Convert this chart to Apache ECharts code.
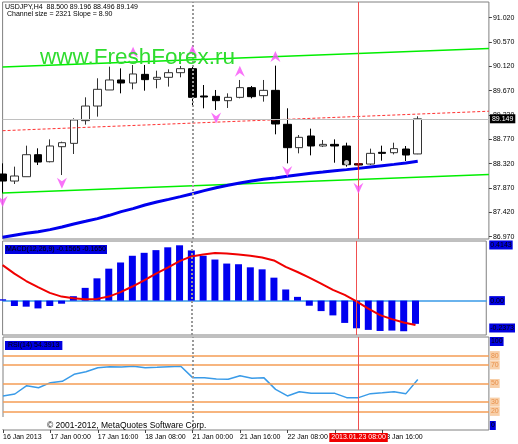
<!DOCTYPE html>
<html>
<head>
<meta charset="utf-8">
<style>
html, body { margin: 0; padding: 0; background: #fff; }
#chart { width: 518px; height: 444px; }
</style>
<script src="https://cdn.jsdelivr.net/npm/echarts@6/dist/echarts.min.js"></script>
</head>
<body>
<div id="chart"></div>
<script>
// one label every 4 H4 candles, the axis has 42 slots, 36 of them with data
var tickLabels = ['16 Jan 2013', '17 Jan 00:00', '17 Jan 16:00', '18 Jan 08:00', '21 Jan 00:00', '21 Jan 16:00', '22 Jan 08:00', '23 Jan 00:00', '23 Jan 16:00']
var slotCount = 42

// open, close, low, high
var candles = [
  [88.129, 87.999, 87.771, 88.326], [87.999, 88.092, 87.944, 88.265], [88.079, 88.486, 88.079, 88.653],
  [88.486, 88.350, 88.295, 88.604], [88.356, 88.647, 88.344, 88.770], [88.634, 88.708, 88.110, 88.727],
  [88.696, 89.128, 88.499, 89.159], [89.116, 89.386, 89.042, 89.547], [89.386, 89.695, 89.190, 89.899],
  [89.683, 89.868, 89.683, 90.114], [89.868, 89.812, 89.621, 90.083], [89.812, 89.979, 89.695, 90.145],
  [89.972, 89.874, 89.670, 90.145], [89.880, 89.917, 89.714, 90.040], [89.917, 90.003, 89.745, 90.065],
  [90.003, 90.077, 89.917, 90.127], [90.077, 89.547, 89.399, 90.114], [89.572, 89.553, 89.344, 89.775],
  [89.565, 89.485, 89.313, 89.683], [89.485, 89.547, 89.350, 89.621], [89.547, 89.726, 89.528, 89.868],
  [89.726, 89.559, 89.528, 89.757], [89.578, 89.676, 89.467, 89.868], [89.676, 89.054, 88.863, 90.133],
  [89.048, 88.616, 88.326, 89.344], [88.616, 88.807, 88.511, 88.850], [88.832, 88.647, 88.474, 88.968],
  [88.647, 88.677, 88.628, 88.758], [88.677, 88.647, 88.338, 88.770], [88.647, 88.301, 88.265, 88.708],
  [88.320, 88.295, 88.233, 88.326], [88.313, 88.511, 88.295, 88.598], [88.530, 88.511, 88.375, 88.653],
  [88.523, 88.598, 88.492, 88.708], [88.591, 88.480, 88.369, 88.647], [88.500, 89.149, 88.496, 89.196],
]
var movingAvg = [
  86.958, 86.995, 87.032, 87.063, 87.100, 87.150, 87.205, 87.254, 87.304, 87.365, 87.433, 87.488,
  87.556, 87.611, 87.660, 87.710, 87.765, 87.821, 87.876, 87.920, 87.963, 88.000, 88.031, 88.056,
  88.086, 88.117, 88.142, 88.166, 88.191, 88.210, 88.233, 88.258, 88.283, 88.307, 88.332, 88.363,
]
// channel and middle line, value at first and last slot
var channelTop = [90.11, 90.45]
var channelBottom = [87.78, 88.12]
var channelMiddle = [88.93, 89.29]
var bidPrice = 89.149
var priceTicks = [86.97, 87.42, 87.87, 88.32, 88.77, 89.22, 89.67, 90.12, 90.57, 91.02]

// [slot, price]
var upArrows = [[11, 90.38], [16, 90.41], [20, 90.03], [23, 90.30]]
var downArrows = [[0, 87.62], [5, 87.96], [18, 89.165], [24, 88.175], [30, 87.865]]
var ringMarks = [[29, 88.344]]
var teeMarks = [[30, 88.27]]

var macdBars = [
  0.010, -0.040, -0.045, -0.058, -0.040, -0.023, 0.033, 0.095, 0.166, 0.238, 0.284, 0.334,
  0.356, 0.376, 0.397, 0.412, 0.374, 0.334, 0.306, 0.276, 0.271, 0.248, 0.233, 0.171,
  0.083, 0.028, -0.038, -0.078, -0.110, -0.166, -0.206, -0.218, -0.226, -0.223, -0.228, -0.173,
]
var macdSignal = [
  0.264, 0.201, 0.146, 0.100, 0.058, 0.030, 0.018, 0.010, 0.013, 0.030, 0.063, 0.105,
  0.151, 0.201, 0.246, 0.294, 0.329, 0.344, 0.354, 0.351, 0.344, 0.334, 0.321, 0.299,
  0.251, 0.213, 0.171, 0.126, 0.080, 0.043, -0.005, -0.060, -0.108, -0.138, -0.163, -0.181,
]
var macdTicks = [-0.2373, 0, 0.4143]

var rsiValues = [
  36.6, 38.7, 47.7, 45.5, 50.9, 52.3, 59.9, 62.7, 67.0, 68.1, 67.7, 68.5,
  67.0, 67.4, 68.1, 68.5, 56.3, 56.3, 54.8, 54.5, 58.4, 55.6, 56.3, 43.7,
  36.6, 41.2, 39.4, 39.4, 39.4, 34.8, 34.8, 39.1, 40.1, 41.2, 39.1, 54.39,
]
var rsiLevels = [20, 30, 50, 70, 80]
var rsiTicks = [0, 20, 30, 50, 70, 80, 100]

var separatorSlot = 16
var cursorSlot = 30
var cursorLabel = '2013.01.23 08:00'

var FONT = '"Liberation Sans", sans-serif'
var FRAME = '#808080'
var ORANGE = '#f49c54'
var BLUE_TAG = '#0000e0'

var categories = []
for (var i = 0; i < slotCount; i++) {
  categories.push(i % 4 === 0 && tickLabels[i / 4] ? tickLabels[i / 4] : '')
}

function vLines(cursorExtra) {
  return [
    { xAxis: separatorSlot, lineStyle: { color: '#999', type: 'dotted', width: 2 }, label: { show: false } },
    Object.assign({ xAxis: cursorSlot, lineStyle: { color: '#f05050', type: 'solid', width: 1 } }, cursorExtra || { label: { show: false } }),
  ]
}

function twoPoints(v) {
  return [[0, v[0]], [slotCount - 1, v[1]]]
}

function xAxisFor(gridIndex) {
  return {
    type: 'category',
    gridIndex: gridIndex,
    data: categories,
    boundaryGap: false,
    axisLine: { show: false },
    axisTick: { show: false },
    axisLabel: { show: false },
    splitLine: { show: false },
  }
}

var UP_PATH = 'path://M5 0 L10 12 L5 8 L0 12 Z'
var DOWN_PATH = 'path://M0 0 L5 4 L10 0 L5 12 Z'

var option = {
  backgroundColor: '#fff',
  animation: false,
  textStyle: { fontFamily: FONT },
  grid: [
    { left: 2.6, right: 29.1, top: 2, height: 237, show: true, borderColor: FRAME, borderWidth: 1, backgroundColor: '#fff' },
    { left: 2.6, right: 29.1, top: 241, height: 94, show: true, borderColor: FRAME, borderWidth: 1, backgroundColor: '#fff' },
    { left: 2.6, right: 29.1, top: 337, height: 93, show: true, borderColor: FRAME, borderWidth: 1, backgroundColor: '#fff' },
  ],
  xAxis: [
    xAxisFor(0),
    Object.assign(xAxisFor(1), {
      axisLine: { show: true, onZero: true, lineStyle: { color: '#3a9be8', width: 1.5 } },
    }),
    Object.assign(xAxisFor(2), {
      axisTick: {
        show: true,
        length: 3,
        lineStyle: { color: '#444' },
        interval: function (i) { return i % 4 === 0 && i < 36 },
      },
      axisLabel: {
        show: true,
        interval: 0,
        align: 'left',
        margin: 4,
        color: '#000',
        fontSize: 7,
        fontFamily: FONT,
      },
    }),
  ],
  yAxis: [
    {
      type: 'value',
      gridIndex: 0,
      position: 'right',
      min: 86.927,
      max: 91.31,
      splitLine: { show: false },
      axisLine: { show: false },
      axisTick: { show: true, length: 3, customValues: priceTicks, lineStyle: { color: '#444' } },
      axisLabel: {
        color: '#000',
        fontSize: 7,
        margin: 4,
        customValues: priceTicks,
        formatter: function (v) { return v.toFixed(3) },
      },
    },
    {
      type: 'value',
      gridIndex: 1,
      position: 'right',
      min: -0.256,
      max: 0.444,
      splitLine: { show: false },
      axisLine: { show: false },
      axisTick: { show: false },
      axisLabel: {
        color: '#000',
        fontSize: 7,
        margin: 3,
        backgroundColor: BLUE_TAG,
        padding: [1, 1],
        verticalAlignMinLabel: 'bottom',
        customValues: macdTicks,
        formatter: function (v) { return v === 0 ? '0.00' : v.toFixed(4) },
      },
    },
    {
      type: 'value',
      gridIndex: 2,
      position: 'right',
      min: 0,
      max: 100,
      splitLine: { show: false },
      axisLine: { show: false },
      axisTick: { show: false },
      axisLabel: {
        fontSize: 7,
        margin: 1,
        verticalAlignMaxLabel: 'top',
        verticalAlignMinLabel: 'bottom',
        customValues: rsiTicks,
        formatter: function (v) {
          return v === 100 || v === 0 ? '{tag|' + v + '}' : '{lvl|' + v + '}'
        },
        rich: {
          tag: { backgroundColor: BLUE_TAG, color: '#000', fontSize: 7, padding: [1, 1] },
          lvl: { backgroundColor: '#f8cfa8', color: '#e8904a', fontSize: 7, padding: [1, 1] },
        },
      },
    },
  ],
  series: [
    {
      type: 'candlestick',
      xAxisIndex: 0,
      yAxisIndex: 0,
      data: candles,
      barWidth: 8,
      itemStyle: { color: '#fff', color0: '#000', borderColor: '#333', borderColor0: '#000', borderWidth: 1 },
      markLine: {
        silent: true,
        symbol: 'none',
        animation: false,
        label: { show: false },
        data: vLines().concat([
          {
            yAxis: bidPrice,
            lineStyle: { color: '#c0c0c0', type: 'solid', width: 1 },
            label: {
              show: true,
              position: 'end',
              distance: 1,
              formatter: bidPrice.toFixed(3),
              color: '#fff',
              backgroundColor: '#000',
              fontSize: 7,
              padding: [1, 2],
            },
          },
        ]),
      },
    },
    {
      type: 'line',
      xAxisIndex: 0,
      yAxisIndex: 0,
      data: twoPoints(channelTop),
      symbol: 'none',
      lineStyle: { color: '#00ee00', width: 1.5 },
    },
    {
      type: 'line',
      xAxisIndex: 0,
      yAxisIndex: 0,
      data: twoPoints(channelBottom),
      symbol: 'none',
      lineStyle: { color: '#00ee00', width: 1.5 },
    },
    {
      type: 'line',
      xAxisIndex: 0,
      yAxisIndex: 0,
      data: twoPoints(channelMiddle),
      symbol: 'none',
      lineStyle: { color: '#ff3030', width: 1, type: [3, 2] },
    },
    {
      type: 'line',
      xAxisIndex: 0,
      yAxisIndex: 0,
      data: movingAvg,
      symbol: 'none',
      z: 4,
      lineStyle: { color: '#0000ee', width: 3 },
    },
    {
      type: 'scatter',
      xAxisIndex: 0,
      yAxisIndex: 0,
      data: upArrows,
      symbol: UP_PATH,
      symbolSize: [10, 11],
      z: 5,
      itemStyle: { color: '#f850f8' },
    },
    {
      type: 'scatter',
      xAxisIndex: 0,
      yAxisIndex: 0,
      data: downArrows,
      symbol: DOWN_PATH,
      symbolSize: [10, 11],
      z: 5,
      itemStyle: { color: '#f850f8' },
    },
    {
      type: 'scatter',
      xAxisIndex: 0,
      yAxisIndex: 0,
      data: ringMarks,
      symbol: 'emptyCircle',
      symbolSize: 5,
      z: 6,
      itemStyle: { color: 'transparent', borderColor: '#e00000', borderWidth: 1.5 },
    },
    {
      type: 'scatter',
      xAxisIndex: 0,
      yAxisIndex: 0,
      data: teeMarks,
      symbol: 'path://M0 0 L10 0 L10 2 L6 2 L6 10 L4 10 L4 2 L0 2 Z',
      symbolSize: [7, 6],
      z: 6,
      itemStyle: { color: '#e00000' },
    },
    {
      type: 'bar',
      xAxisIndex: 1,
      yAxisIndex: 1,
      data: macdBars,
      barWidth: 7,
      itemStyle: { color: '#0000f0' },
    },
    {
      type: 'line',
      xAxisIndex: 1,
      yAxisIndex: 1,
      data: macdSignal,
      symbol: 'none',
      z: 4,
      lineStyle: { color: '#f00000', width: 2 },
      markLine: { silent: true, symbol: 'none', animation: false, label: { show: false }, data: vLines() },
    },
    {
      type: 'line',
      xAxisIndex: 2,
      yAxisIndex: 2,
      data: rsiValues,
      symbol: 'none',
      z: 4,
      lineStyle: { color: '#3a9be8', width: 1.5 },
      markLine: {
        silent: true,
        symbol: 'none',
        animation: false,
        precision: 0,
        label: { show: false },
        data: rsiLevels
          .map(function (v) {
            return { yAxis: v, lineStyle: { color: ORANGE, type: 'solid', width: 1.5 }, label: { show: false } }
          })
          .concat(
            vLines({
              label: {
                show: true,
                position: 'start',
                distance: 3,
                formatter: cursorLabel,
                color: '#fff',
                backgroundColor: '#f00000',
                fontSize: 7,
                padding: [1, 2],
              },
            })
          ),
      },
    },
  ],
  graphic: [
    {
      type: 'text',
      z: 10,
      left: 5,
      top: 3.5,
      style: { text: 'USDJPY,H4  88.500 89.196 88.496 89.149', fill: '#000', font: '7px ' + FONT },
    },
    {
      type: 'text',
      z: 10,
      left: 7,
      top: 11,
      style: { text: 'Channel size = 2321 Slope = 8.90', fill: '#000', font: '7px ' + FONT },
    },
    {
      type: 'text',
      z: 10,
      left: 40,
      top: 46,
      style: { text: 'www.FreshForex.ru', fill: '#2fdc2f', font: '22.5px ' + FONT },
    },
    {
      type: 'text',
      z: 10,
      left: 5,
      top: 245,
      style: { text: 'MACD(12,26,9) -0.1565 -0.1650', fill: '#000', backgroundColor: BLUE_TAG, font: '7px ' + FONT, padding: [1, 1] },
    },
    {
      type: 'text',
      z: 10,
      left: 5,
      top: 341,
      style: { text: 'RSI(14) 54.3913', fill: '#000', backgroundColor: BLUE_TAG, font: '7px ' + FONT, padding: [1, 3] },
    },
    {
      type: 'rect',
      z: 9,
      shape: { x: 0, y: 417, width: 8, height: 12 },
      style: { fill: '#fff' },
    },
    {
      type: 'text',
      z: 10,
      left: 47,
      top: 421,
      style: { text: '\u00a9 2001-2012, MetaQuotes Software Corp.', fill: '#000', font: '8.5px ' + FONT },
    },
  ],
}

var chart = echarts.init(document.getElementById('chart'), null, { renderer: 'canvas' })
chart.setOption(option)
</script>
</body>
</html>
